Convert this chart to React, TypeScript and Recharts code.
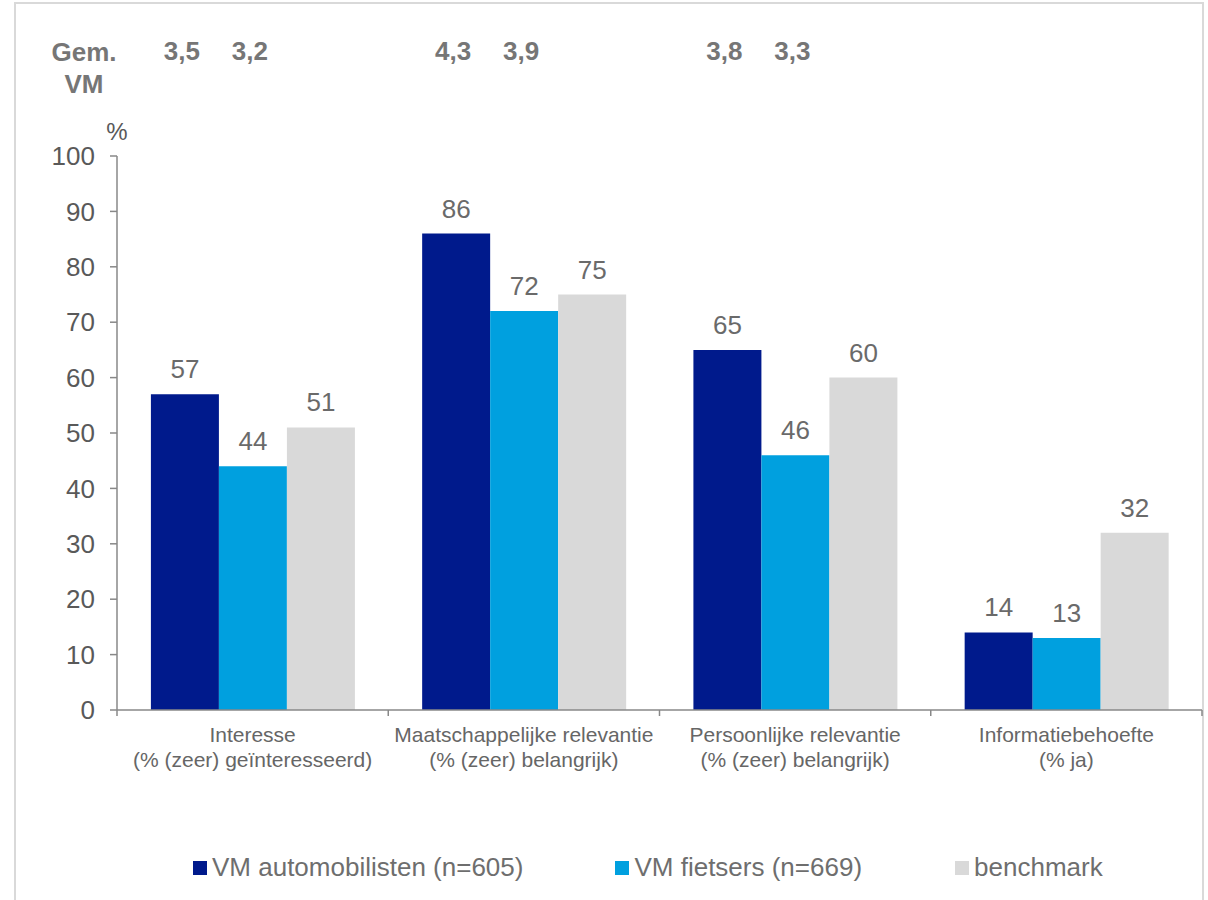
import React from 'react';
import { BarChart, Bar, XAxis, YAxis, LabelList, Legend, Label } from 'recharts';

const categoryTitles = ['Interesse', 'Maatschappelijke relevantie', 'Persoonlijke relevantie', 'Informatiebehoefte'];
const categorySubtitles = ['(% (zeer) geïnteresseerd)', '(% (zeer) belangrijk)', '(% (zeer) belangrijk)', '(% ja)'];
const autoValues = [57, 86, 65, 14];
const fietsValues = [44, 72, 46, 13];
const benchmarkValues = [51, 75, 60, 32];
const gemAuto: (number | null)[] = [3.5, 4.3, 3.8, null];
const gemFiets: (number | null)[] = [3.2, 3.9, 3.3, null];
const yTicks = [0, 10, 20, 30, 40, 50, 60, 70, 80, 90, 100];
const seriesNames = ['VM automobilisten (n=605)', 'VM fietsers (n=669)', 'benchmark'];
const seriesColors = ['#001A8C', '#00A0DF', '#D9D9D9'];

const data = categoryTitles.map((name, i) => ({
  name,
  auto: autoValues[i],
  fiets: fietsValues[i],
  bench: benchmarkValues[i],
  gemAuto: gemAuto[i],
  gemFiets: gemFiets[i],
}));

const FONT = 'Arial, "Liberation Sans", sans-serif';

const CatTick = (props: any) => {
  const { x, y, payload, index, visibleTicksCount } = props;
  const off = payload && payload.offset != null ? payload.offset : 0;
  const i = categoryTitles.indexOf(payload.value);
  const isLast = index === visibleTicksCount - 1;
  return (
    <g>
      <line x1={x - off} x2={x - off} y1={y - 6} y2={y} stroke="#888" strokeWidth={1.5} />
      {isLast && <line x1={x + off} x2={x + off} y1={y - 6} y2={y} stroke="#888" strokeWidth={1.5} />}
      <text x={x} y={y + 26} textAnchor="middle" fontSize={21} fill="#666" fontFamily={FONT}>
        {payload.value}
      </text>
      <text x={x} y={y + 51} textAnchor="middle" fontSize={21} fill="#666" fontFamily={FONT}>
        {categorySubtitles[i]}
      </text>
    </g>
  );
};

const HeaderLabel = (props: any) => {
  const vb = props.viewBox || props;
  const { value } = props;
  if (value == null) return null;
  const x = (vb.x ?? props.x) + (vb.width ?? props.width) / 2;
  return (
    <text x={x - 3} y={60} textAnchor="middle" fontSize={26} fontWeight="bold" fill="#767676" fontFamily={FONT}>
      {Number(value).toFixed(1).replace('.', ',')}
    </text>
  );
};

const PercentLabel = (props: any) => {
  const vb = props.viewBox;
  if (!vb) return null;
  return (
    <text x={vb.x + vb.width} y={vb.y - 16} textAnchor="middle" fontSize={24} fill="#595959" fontFamily={FONT}>
      %
    </text>
  );
};

const LegendContent = () => (
  <div
    style={{
      display: 'flex',
      alignItems: 'center',
      fontFamily: FONT,
      fontSize: 26,
      color: '#6e6e6e',
      whiteSpace: 'nowrap',
    }}
  >
    {seriesNames.map((n, i) => (
      <div
        key={n}
        style={{ display: 'flex', alignItems: 'center', flexShrink: 0, marginRight: i === 0 ? 92 : i === 1 ? 93 : 0 }}
      >
        <span style={{ display: 'inline-block', width: 14, height: 14, background: seriesColors[i], marginRight: 5 }} />
        <span>{n}</span>
      </div>
    ))}
  </div>
);

export default function App() {
  return (
    <div style={{ position: 'absolute', left: 0, top: 0, width: 1208, height: 900, overflow: 'hidden', background: '#fff' }}>
      <div
        style={{
          position: 'absolute',
          left: 14,
          top: 2,
          width: 1186,
          height: 940,
          border: '2px solid #d9d9d9',
        }}
      />
      <div
        style={{
          position: 'absolute',
          left: 44,
          top: 36,
          width: 80,
          textAlign: 'center',
          fontFamily: FONT,
          fontWeight: 'bold',
          fontSize: 26,
          lineHeight: '32px',
          color: '#767676',
        }}
      >
        Gem.
        <br />
        VM
      </div>
      <div style={{ position: 'absolute', left: 0, top: 0 }}>
        <BarChart
          width={1208}
          height={900}
          data={data}
          margin={{ top: 156, right: 6, bottom: 130, left: 0 }}
          barCategoryGap="12.5%"
          barGap={0}
          style={{ fontFamily: FONT }}
        >
          <XAxis
            dataKey="name"
            interval={0}
            height={60}
            tickLine={false}
            tickSize={6}
            tickMargin={0}
            tick={<CatTick />}
            axisLine={{ stroke: '#888', strokeWidth: 1.5 }}
          />
          <YAxis
            domain={[0, 100]}
            ticks={yTicks}
            interval={0}
            width={117}
            tickSize={7}
            tickMargin={15}
            axisLine={{ stroke: '#888', strokeWidth: 1.5 }}
            tickLine={{ stroke: '#888', strokeWidth: 1.5 }}
            tick={{ fill: '#595959', fontSize: 26, fontFamily: FONT }}
          >
            <Label content={<PercentLabel />} position="insideTopRight" />
          </YAxis>
          <Legend
            verticalAlign="middle"
            layout="horizontal"
            content={<LegendContent />}
            wrapperStyle={{ top: 852, left: 193, width: 1010, height: 36 }}
          />
          <Bar dataKey="auto" name={seriesNames[0]} fill={seriesColors[0]} isAnimationActive={false}>
            <LabelList dataKey="auto" position="top" offset={16} fill="#6a6a6a" fontSize={26} fontFamily={FONT} />
            <LabelList dataKey="gemAuto" content={<HeaderLabel />} />
          </Bar>
          <Bar dataKey="fiets" name={seriesNames[1]} fill={seriesColors[1]} isAnimationActive={false}>
            <LabelList dataKey="fiets" position="top" offset={16} fill="#6a6a6a" fontSize={26} fontFamily={FONT} />
            <LabelList dataKey="gemFiets" content={<HeaderLabel />} />
          </Bar>
          <Bar dataKey="bench" name={seriesNames[2]} fill={seriesColors[2]} isAnimationActive={false}>
            <LabelList dataKey="bench" position="top" offset={16} fill="#6a6a6a" fontSize={26} fontFamily={FONT} />
          </Bar>
        </BarChart>
      </div>
    </div>
  );
}
